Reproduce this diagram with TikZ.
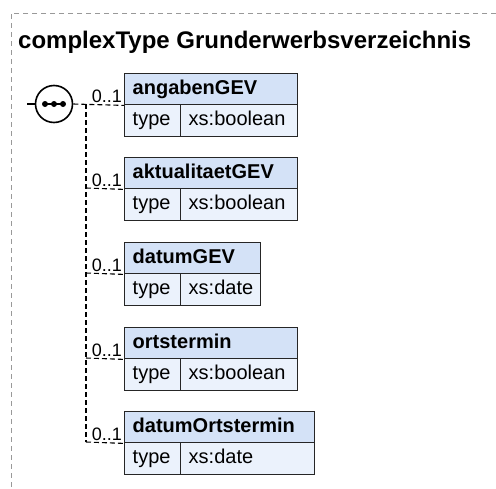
\documentclass[tikz,border=0pt]{standalone}
\usepackage{fontspec}
\setmainfont{Liberation Sans}
\begin{document}
\begin{tikzpicture}[x=1pt,y=-1pt,
  frame/.style={draw=black!40,line width=0.9pt,dash pattern=on 5pt off 4pt},
  conn/.style={draw=black,line width=1.1pt,dash pattern=on 5pt off 3pt},
  hdr/.style={draw=black!85,line width=1.4pt,fill=hdrfill,anchor=north west,
    inner xsep=8pt,inner ysep=0pt,minimum height=31pt,text height=14pt,text depth=3pt,
    font=\fontsize{20}{24}\selectfont\bfseries,align=left,text width=#1-16pt},
  cell/.style={draw=black!85,line width=1.4pt,fill=rowfill,anchor=north west,
    inner xsep=8pt,inner ysep=0pt,minimum height=32pt,text height=14pt,text depth=4pt,
    font=\fontsize{20}{24}\selectfont,align=left,text width=#1-16pt},
  mult/.style={anchor=base east,inner sep=0pt,font=\fontsize{18}{20}\selectfont},
  seqc/.style={circle,draw=black,line width=1.6pt,fill=white,minimum size=37pt,inner sep=0pt}
]
\definecolor{hdrfill}{HTML}{D4E2F7}
\definecolor{rowfill}{HTML}{EBF2FC}
\useasboundingbox (0,0) rectangle (496,488);
\fill[white] (0,0) rectangle (496,488);
% outer frame
\coordinate (fr1) at (496,13);
\coordinate (fr2) at (11,13);
\coordinate (fr3) at (11,488);
\draw[frame] (fr1) -- (fr2) -- (fr3);
% title
\node[anchor=base west,inner sep=0pt,font=\fontsize{24}{28}\selectfont\bfseries] (title) at (18,48) {complexType Grunderwerbsverzeichnis};
% boxes
\node[hdr=173pt] (h1) at (124,73) {angabenGEV};
\node[cell=56pt] (t1) at (124,104) {type};
\node[cell=117pt] (v1) at (180,104) {xs:boolean};
\node[hdr=173pt] (h2) at (124,157) {aktualitaetGEV};
\node[cell=56pt] (t2) at (124,188) {type};
\node[cell=117pt] (v2) at (180,188) {xs:boolean};
\node[hdr=136pt] (h3) at (124,242) {datumGEV};
\node[cell=56pt] (t3) at (124,273) {type};
\node[cell=80pt] (v3) at (180,273) {xs:date};
\node[hdr=173pt] (h4) at (124,327) {ortstermin};
\node[cell=56pt] (t4) at (124,358) {type};
\node[cell=117pt] (v4) at (180,358) {xs:boolean};
\node[hdr=190pt] (h5) at (124,411) {datumOrtstermin};
\node[cell=56pt] (t5) at (124,442) {type};
\node[cell=134pt] (v5) at (180,442) {xs:date};
% sequence compositor
\node[seqc] (seq) at (54,104) {};
\coordinate (in) at (27,104);
\coordinate (ja) at (86,104);
\coordinate (jb) at (86,188);
\coordinate (jc) at (86,273);
\coordinate (jd) at (86,358);
\coordinate (je) at (86,442);
\draw[line width=1.1pt] (in) -- (seq.west);
\draw[conn] (seq.east) -- (h1.south west);
\draw[conn] (ja) -- (je);
\draw[conn] (jb) -- (h2.south west);
\draw[conn] (jc) -- (h3.south west);
\draw[conn] (jd) -- (h4.south west);
\draw[conn] (je) -- (h5.south west);
% dots in sequence symbol
\draw[line width=2pt] ([xshift=-9pt]seq.center) -- ([xshift=9pt]seq.center);
\fill ([xshift=-9pt]seq.center) circle (3pt);
\fill (seq.center) circle (3pt);
\fill ([xshift=9pt]seq.center) circle (3pt);
% multiplicities
\node[mult] (m1) at (122,102) {0..1};
\node[mult] (m2) at (122,186) {0..1};
\node[mult] (m3) at (122,271) {0..1};
\node[mult] (m4) at (122,356) {0..1};
\node[mult] (m5) at (122,440) {0..1};
\end{tikzpicture}
\end{document}
